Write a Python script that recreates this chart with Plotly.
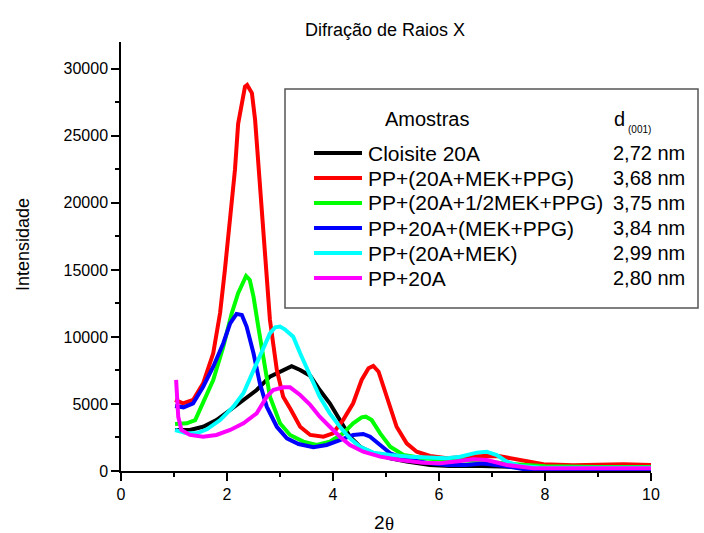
import plotly.graph_objects as go

# ---------------- data ----------------
series_names = ["Cloisite 20A", "PP+(20A+MEK+PPG)", "PP+(20A+1/2MEK+PPG)",
                "PP+20A+(MEK+PPG)", "PP+(20A+MEK)", "PP+20A"]
d001_values = ["2,72 nm", "3,68 nm", "3,75 nm", "3,84 nm", "2,99 nm", "2,80 nm"]
series_colors = ["#000000", "#ff0000", "#00ff00", "#0000ff", "#00ffff", "#ff00ff"]

x_cloisite = [1.02, 1.3, 1.55, 1.8, 2.06, 2.31, 2.56, 2.81, 3.06, 3.22, 3.38, 3.57, 3.75, 3.94,
              4.13, 4.32, 4.51, 4.76, 5.08, 5.39, 5.83, 6.2, 6.8, 7.5, 8.0, 9.0, 10.0]
y_cloisite = [3060, 3060, 3300, 3800, 4550, 5300, 6040, 7040, 7540, 7820, 7540, 7100, 6040, 5050,
              3800, 2560, 1810, 1320, 950, 700, 450, 370, 380, 300, 250, 250, 220]

x_mek_ppg = [1.02, 1.17, 1.36, 1.55, 1.74, 1.87, 1.96, 2.06, 2.15, 2.21, 2.28, 2.34, 2.38, 2.47,
             2.53, 2.59, 2.65, 2.75, 2.81, 2.94, 3.06, 3.2, 3.38, 3.57, 3.82, 4.0, 4.19, 4.38,
             4.54, 4.67, 4.76, 4.86, 4.98, 5.08, 5.2, 5.39, 5.58, 5.83, 6.15, 6.4, 6.84, 7.15,
             7.4, 7.65, 7.97, 8.53, 9.0, 9.48, 10.0]
y_mek_ppg = [5300, 5050, 5300, 6540, 8780, 11800, 15000, 18700, 22460, 25900, 27460, 28680, 28800, 28190,
             26200, 22960, 19980, 15000, 11270, 7540, 5540, 4600, 3300, 2690, 2560, 2810, 3800, 5050,
             6790, 7660, 7840, 7410, 6040, 4800, 3300, 2060, 1440, 1120, 950, 1020, 1120, 1100,
             900, 700, 500, 420, 450, 500, 440]

x_half_mek = [1.02, 1.24, 1.4, 1.55, 1.74, 1.93, 2.09, 2.21, 2.31, 2.36, 2.43, 2.5, 2.59, 2.69,
              2.81, 3.0, 3.19, 3.44, 3.69, 3.94, 4.19, 4.38, 4.54, 4.62, 4.73, 4.89, 5.08, 5.33,
              5.7, 6.15, 6.8, 7.3, 8.0, 9.0, 10.0]
y_half_mek = [3500, 3560, 3800, 5050, 6790, 9280, 11770, 13260, 14250, 14550, 14250, 13010, 10770, 8280,
              5540, 3560, 2690, 2190, 1940, 2190, 2810, 3560, 4000, 4050, 3800, 2810, 1810, 1190,
              950, 820, 750, 550, 350, 300, 300]

x_sep = [1.02, 1.18, 1.36, 1.55, 1.74, 1.93, 2.06, 2.18, 2.28, 2.37, 2.5, 2.62, 2.75, 2.94,
         3.13, 3.35, 3.63, 3.88, 4.13, 4.38, 4.57, 4.7, 4.89, 5.08, 5.39, 5.83, 6.15, 6.5,
         6.83, 7.2, 7.58, 8.0, 9.0, 10.0]
y_sep = [4850, 4750, 5050, 6290, 7780, 9530, 11020, 11720, 11640, 10770, 8780, 6540, 4800, 3300,
         2440, 2010, 1770, 1940, 2310, 2690, 2760, 2560, 1940, 1320, 870, 570, 450, 450,
         550, 400, 150, 120, 120, 120]

x_mek = [1.02, 1.24, 1.43, 1.62, 1.87, 2.12, 2.31, 2.5, 2.69, 2.81, 2.91, 3.0, 3.09, 3.25,
         3.38, 3.57, 3.75, 3.94, 4.13, 4.32, 4.51, 4.76, 5.08, 5.45, 5.83, 6.15, 6.4, 6.71,
         6.9, 7.09, 7.28, 7.53, 7.9, 9.0, 10.0]
y_mek = [3060, 2810, 2810, 3110, 3800, 4800, 5800, 7540, 9280, 10270, 10720, 10770, 10570, 10020,
         8780, 7040, 5540, 4300, 3300, 2440, 1810, 1370, 1190, 1070, 990, 950, 1070, 1370,
         1440, 1190, 700, 370, 270, 250, 250]

x_pp20a = [1.04, 1.05, 1.08, 1.14, 1.3, 1.55, 1.8, 2.06, 2.31, 2.56, 2.75, 2.87, 3.06, 3.19,
           3.38, 3.57, 3.75, 3.94, 4.13, 4.32, 4.57, 4.89, 5.26, 5.7, 6.02, 6.4, 6.65, 6.9,
           7.28, 7.78, 9.0, 10.0]
y_pp20a = [6790, 5800, 4050, 3060, 2690, 2560, 2690, 3060, 3560, 4300, 5540, 6040, 6240, 6240,
           5670, 4930, 4050, 3300, 2560, 1940, 1440, 1070, 820, 620, 570, 750, 870, 820,
           450, 200, 200, 200]

x_tick_vals = [0, 2, 4, 6, 8, 10]
y_tick_vals = [0, 5000, 10000, 15000, 20000, 25000, 30000]

all_x = [x_cloisite, x_mek_ppg, x_half_mek, x_sep, x_mek, x_pp20a]
all_y = [y_cloisite, y_mek_ppg, y_half_mek, y_sep, y_mek, y_pp20a]

# ---------------- layout geometry ----------------
W, H = 704, 533
L, R, T, B = 121, 53, 42, 62
PW, PH = W - L - R, H - T - B
FONT = "Liberation Sans, Arial, sans-serif"


def px(xp):
    return (xp - L) / PW


def py(yp):
    return (H - B - yp) / PH


fig = go.Figure()
for xs, ys, name, col in zip(all_x, all_y, series_names, series_colors):
    fig.add_trace(go.Scatter(x=xs, y=ys, mode="lines", name=name,
                             line=dict(color=col, width=4), showlegend=False))

shapes = []
annotations = []

# legend box
shapes.append(dict(type="rect", xref="paper", yref="paper",
                   x0=px(285), x1=px(698), y0=py(308), y1=py(89),
                   line=dict(color="#555555", width=1.5), fillcolor="rgba(0,0,0,0)"))
annotations.append(dict(xref="paper", yref="paper", x=px(427), y=py(119), text="Amostras",
                        showarrow=False, xanchor="center", yanchor="middle",
                        font=dict(size=20, color="black", family=FONT)))
annotations.append(dict(xref="paper", yref="paper", x=px(612), y=py(119), text="d",
                        showarrow=False, xanchor="left", yanchor="middle",
                        font=dict(size=20, color="black", family=FONT)))
annotations.append(dict(xref="paper", yref="paper", x=px(626), y=py(129), text="(001)",
                        showarrow=False, xanchor="left", yanchor="middle",
                        font=dict(size=10, color="black", family=FONT)))
row0, dy = 153, 25
for i, (name, dval, col) in enumerate(zip(series_names, d001_values, series_colors)):
    yc = row0 + i * dy
    shapes.append(dict(type="line", xref="paper", yref="paper",
                       x0=px(314), x1=px(362), y0=py(yc), y1=py(yc),
                       line=dict(color=col, width=4)))
    annotations.append(dict(xref="paper", yref="paper", x=px(366), y=py(yc), text=name,
                            showarrow=False, xanchor="left", yanchor="middle",
                            font=dict(size=21, color="black", family=FONT)))
    annotations.append(dict(xref="paper", yref="paper", x=px(687), y=py(yc), text=dval,
                            showarrow=False, xanchor="right", yanchor="middle",
                            font=dict(size=20, color="black", family=FONT)))

# axis titles
annotations.append(dict(xref="paper", yref="paper", x=px(379), y=py(522), text="2",
                        showarrow=False, xanchor="center", yanchor="middle",
                        font=dict(size=19, color="black", family=FONT)))
annotations.append(dict(xref="paper", yref="paper", x=px(389), y=py(523), text="θ",
                        showarrow=False, xanchor="center", yanchor="middle",
                        font=dict(size=19, color="black", family="Liberation Serif, serif")))
annotations.append(dict(xref="paper", yref="paper", x=px(23), y=py(245),
                        text="Intensidade", textangle=-90,
                        showarrow=False, xanchor="center", yanchor="middle",
                        font=dict(size=18, color="black", family=FONT)))

fig.update_layout(
    width=W, height=H,
    margin=dict(l=L, r=R, t=T, b=B, pad=0),
    paper_bgcolor="white", plot_bgcolor="white",
    font=dict(family=FONT, size=16, color="black"),
    title=dict(text="Difração de Raios X", x=px(385), xref="paper", xanchor="center",
               y=1 - 30 / H, yref="container", yanchor="middle",
               font=dict(size=18, color="black", family=FONT)),
    shapes=shapes, annotations=annotations, showlegend=False,
)
fig.update_xaxes(range=[0, 10], showline=True, linecolor="black", linewidth=1.5,
                 ticks="outside", ticklen=8, tickwidth=1.5, tickcolor="black",
                 tickvals=x_tick_vals, showgrid=False, zeroline=False,
                 minor=dict(dtick=1, ticks="outside", ticklen=4, tickwidth=1.5,
                            tickcolor="black", showgrid=False),
                 tickfont=dict(size=16, family=FONT, color="black"))
fig.update_yaxes(range=[0, 32000], showline=True, linecolor="black", linewidth=1.5,
                 ticks="outside", ticklen=8, tickwidth=1.5, tickcolor="black",
                 tickvals=y_tick_vals, tickformat="d", showgrid=False, zeroline=False,
                 minor=dict(dtick=2500, ticks="outside", ticklen=4, tickwidth=1.5,
                            tickcolor="black", showgrid=False),
                 tickfont=dict(size=16, family=FONT, color="black"))

fig.write_html("out.html")
